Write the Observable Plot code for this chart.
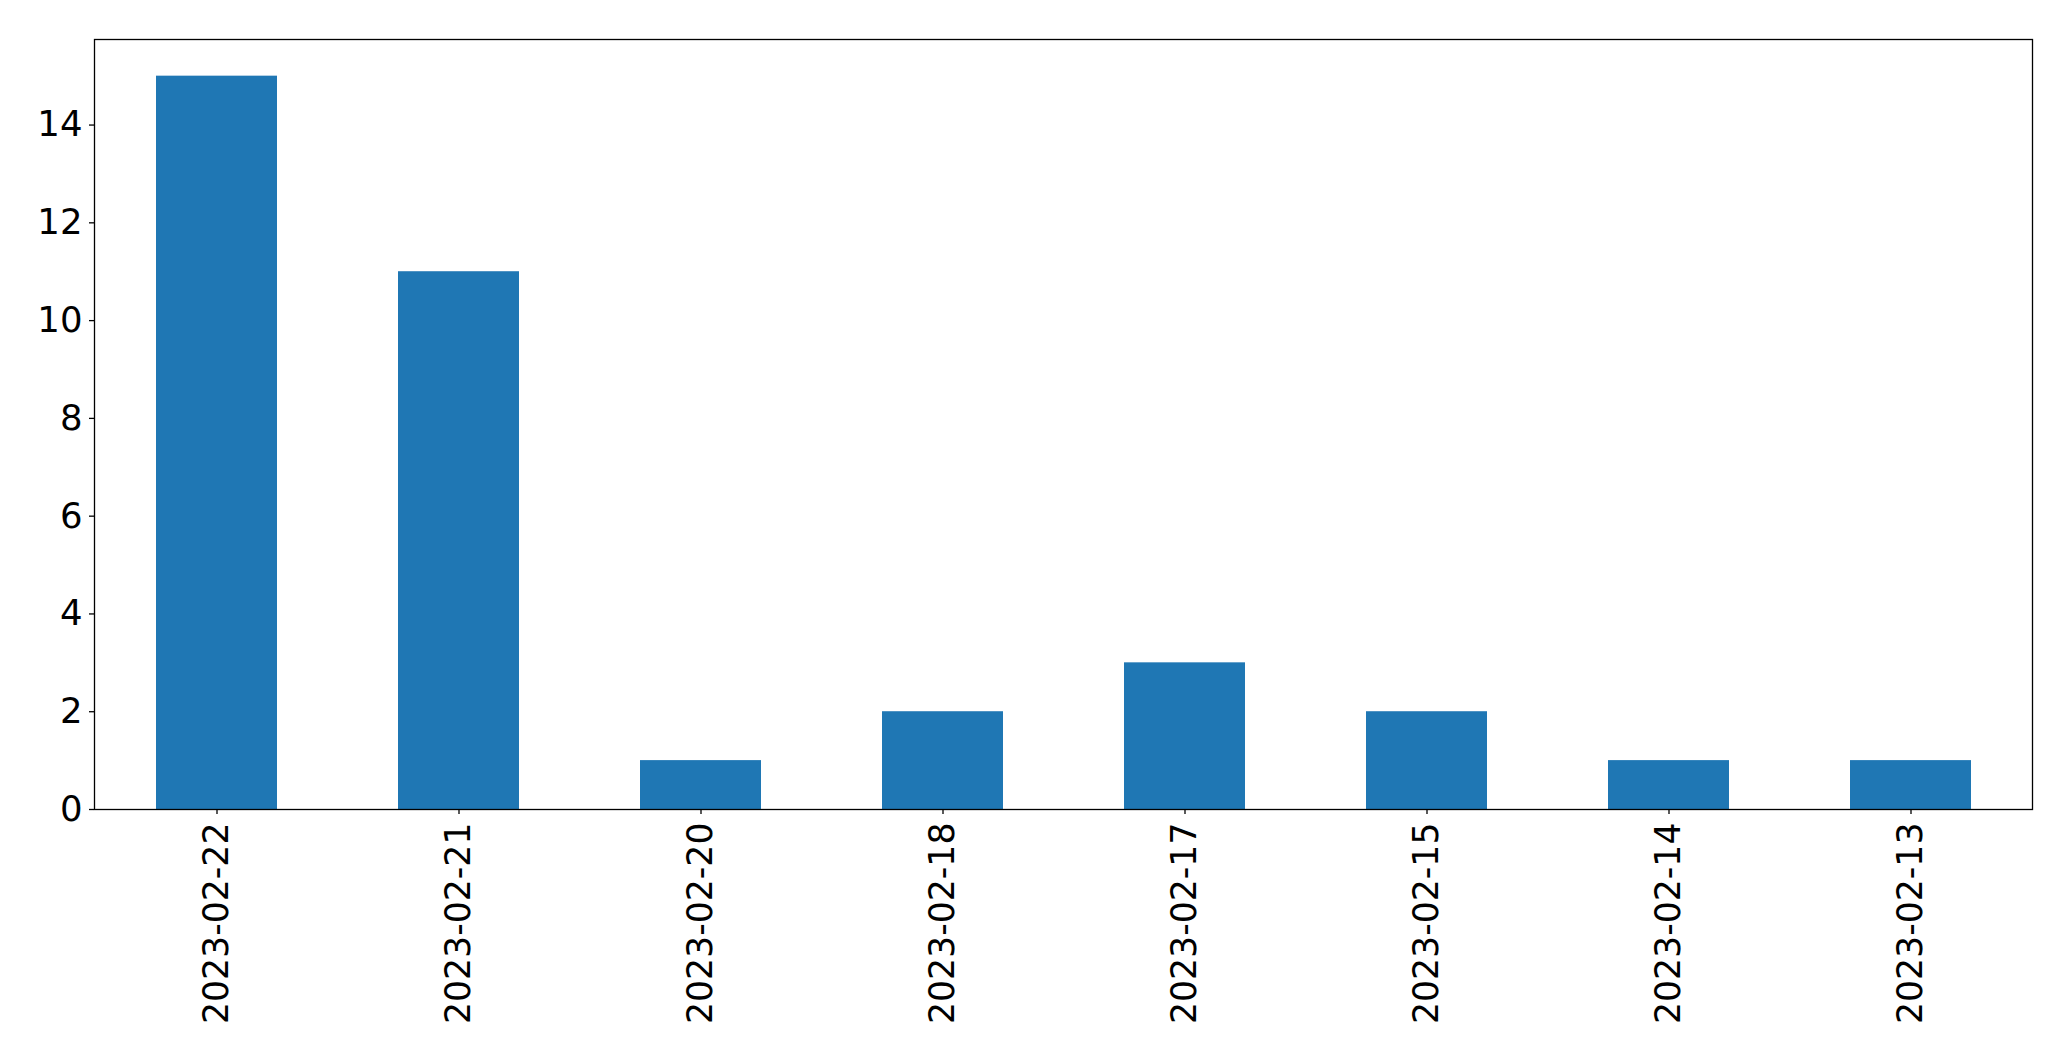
<!DOCTYPE html>
<html>
<head>
<meta charset="utf-8">
<script src="https://cdn.jsdelivr.net/npm/d3@7"></script>
<script src="https://cdn.jsdelivr.net/npm/@observablehq/plot@0.6"></script>
<style>
  html, body { margin: 0; padding: 0; background: #fff; overflow: hidden; }
  #chart { line-height: 0; }
  #chart svg { display: block; }
</style>
</head>
<body>
<div id="chart"></div>
<script>
const dates = ["2023-02-22", "2023-02-21", "2023-02-20", "2023-02-18", "2023-02-17", "2023-02-15", "2023-02-14", "2023-02-13"];
const counts = [15, 11, 1, 2, 3, 2, 1, 1];
const yTicks = [0, 2, 4, 6, 8, 10, 12, 14];

const data = dates.map((d, i) => ({date: d, count: counts[i]}));

const chart = Plot.plot({
  width: 2071,
  height: 1061,
  marginLeft: 94,
  marginRight: 39,
  marginTop: 39,
  marginBottom: 252,
  style: {fontFamily: "DejaVu Sans", fontSize: "34.7px", color: "#000", background: "#fff"},
  x: {domain: dates, paddingInner: 0.5, paddingOuter: 0.25, label: null},
  y: {domain: [0, 15.75], label: null},
  marks: [
    Plot.barY(data, {x: "date", y: "count", fill: "#1f77b4"}),
    Plot.frame({stroke: "#000", strokeWidth: 1.3}),
    Plot.axisY({ticks: yTicks, tickSize: 5, tickPadding: 7, tickFormat: d => String(d), label: null, fontSize: 35.5, strokeWidth: 1.3}),
    Plot.axisX({tickRotate: -90, tickSize: 5, tickPadding: 8, label: null, fontSize: 34.7, strokeWidth: 1.3})
  ]
});
document.getElementById("chart").appendChild(chart);
</script>
</body>
</html>
